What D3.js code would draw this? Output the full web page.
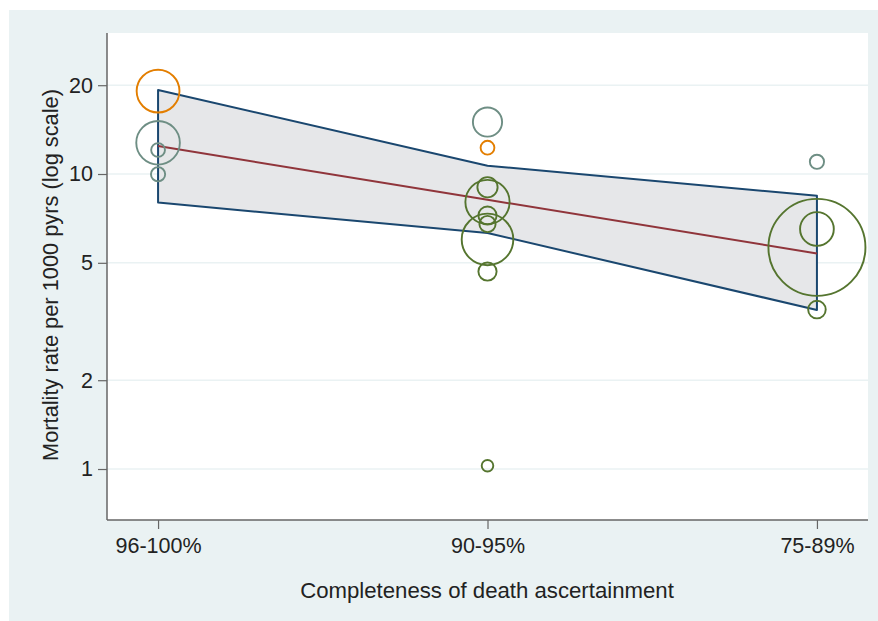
<!DOCTYPE html>
<html><head><meta charset="utf-8">
<script src="https://cdn.jsdelivr.net/npm/d3@7"></script>
<style>
html,body{margin:0;padding:0;background:#fff;}
text{font-family:"Liberation Sans",Arial,Helvetica,sans-serif;fill:#222;}
</style></head>
<body><svg id="c" width="878" height="621"></svg>
<script>
// ---- data ----
const categories = ["96-100%", "90-95%", "75-89%"];
const yTicks = [1, 2, 5, 10, 20];
// regression fit and 95% CI at each category (mortality per 1000 pyrs)
const fitRate = [12.44, 8.18, 5.38];
const ciUpper = [19.27, 10.67, 8.44];
const ciLower = [8.0, 6.31, 3.46];
// individual studies: category index, rate, weight (bubble size), group
const studyCat    = [0, 0, 0, 0, 1, 1, 1, 1, 1, 1, 1, 1, 1, 2, 2, 2, 2];
const studyRate   = [19.1, 12.76, 12.06, 9.98, 15.0, 12.28, 9.02, 8.04, 7.23, 6.77, 6.0, 4.67, 1.026, 11.0, 5.64, 6.51, 3.47];
const studyWeight = [19.5, 20.2, 2.02, 2.14, 9.06, 2.02, 4.34, 20.8, 3.52, 2.79, 28.3, 3.52, 1.43, 2.14, 100, 12.1, 3.29];
const studyGroup  = ["B", "C", "C", "C", "C", "B", "A", "A", "A", "A", "A", "A", "A", "C", "A", "A", "A"];
const xTitle = "Completeness of death ascertainment";
const yTitle = "Mortality rate per 1000 pyrs (log scale)";

// ---- drawing ----
const svg = d3.select("#c");
const groupColor = {A: "#55752f", B: "#e37e00", C: "#6e8e84"};
const L = 107, R = 868, T = 33, B = 520;

svg.append("rect").attr("x", 9).attr("y", 10).attr("width", 869).attr("height", 611).attr("fill", "#eaf2f3");
svg.append("rect").attr("x", L).attr("y", T).attr("width", R - L).attr("height", B - T).attr("fill", "#fff");

const x = d3.scaleLinear().domain([-0.155, 2.155]).range([L, R]);
const y = d3.scaleLog().domain([0.6717, 30.06]).range([B, T]);
const r = d3.scaleSqrt().domain([0, 100]).range([0, 48.5]);

// gridlines
svg.append("g").selectAll("line").data(yTicks).join("line")
  .attr("x1", L).attr("x2", R).attr("y1", d => y(d)).attr("y2", d => y(d))
  .attr("stroke", "#eaf2f3").attr("stroke-width", 1.6);

// CI band
const idx = categories.map((c, i) => i);
const area = d3.area().x(i => x(i)).y0(i => y(ciLower[i])).y1(i => y(ciUpper[i]));
svg.append("path").attr("d", area(idx)).attr("fill", "#e6e7e9").attr("stroke", "none");
const outline = idx.map(i => [x(i), y(ciUpper[i])]).concat(idx.slice().reverse().map(i => [x(i), y(ciLower[i])]));
svg.append("path").attr("d", d3.line()(outline) + "Z").attr("fill", "none")
  .attr("stroke", "#1a476f").attr("stroke-width", 2).attr("stroke-linejoin", "round");

// fit line
svg.append("path").attr("d", d3.line().x(i => x(i)).y(i => y(fitRate[i]))(idx))
  .attr("fill", "none").attr("stroke", "#90353b").attr("stroke-width", 2);

// bubbles
const studies = studyCat.map((c, i) => ({c, v: studyRate[i], w: studyWeight[i], g: studyGroup[i]}));
svg.append("g").selectAll("circle").data(studies).join("circle")
  .attr("cx", d => x(d.c)).attr("cy", d => y(d.v)).attr("r", d => r(d.w))
  .attr("fill", "none").attr("stroke", d => groupColor[d.g]).attr("stroke-width", 1.9);

// axes
const yAxis = d3.axisLeft(y).tickValues(yTicks).tickFormat(d3.format("d")).tickSize(9).tickPadding(5);
const gy = svg.append("g").attr("transform", `translate(${L},0)`).call(yAxis);
gy.select(".domain").attr("d", `M0,${T}V${B}`);
const xAxis = d3.axisBottom(x).tickValues(idx).tickFormat(i => categories[i]).tickSize(9).tickPadding(9);
const gx = svg.append("g").attr("transform", `translate(0,${B})`).call(xAxis);
gx.select(".domain").attr("d", `M${L},0H${R}`);
[gx, gy].forEach(g => {
  g.select(".domain").attr("stroke", "#666").attr("stroke-width", 1.5);
  g.selectAll(".tick line").attr("stroke", "#666").attr("stroke-width", 1.2);
  g.selectAll("text").attr("font-size", 21.5).attr("fill", "#222")
    .attr("font-family", '"Liberation Sans",Arial,Helvetica,sans-serif');
});

svg.append("text").attr("x", (L + R) / 2 - 0.5).attr("y", 598).attr("text-anchor", "middle")
  .attr("font-size", 22.2).text(xTitle);
svg.append("text").attr("transform", "translate(57.5,275) rotate(-90)").attr("text-anchor", "middle")
  .attr("font-size", 21.8).text(yTitle);
</script></body></html>
